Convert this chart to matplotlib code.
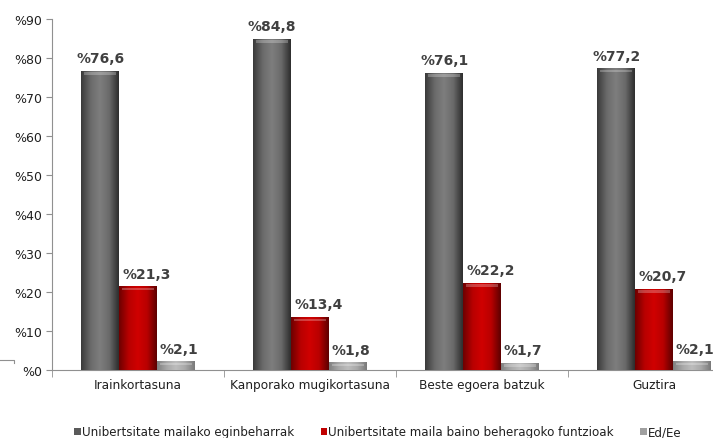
import numpy as np
import matplotlib
matplotlib.use('Agg')
from matplotlib import pyplot as plt
from matplotlib.colors import LinearSegmentedColormap
from matplotlib.lines import Line2D

categories = ['Irainkortasuna', 'Kanporako mugikortasuna', 'Beste egoera batzuk', 'Guztira']
series_names = ['Unibertsitate mailako eginbeharrak',
                'Unibertsitate maila baino beheragoko funtzioak',
                'Ed/Ee']
unib = [76.6, 84.8, 76.1, 77.2]
behera = [21.3, 13.4, 22.2, 20.7]
eded = [2.1, 1.8, 1.7, 2.1]
yticks = [0, 10, 20, 30, 40, 50, 60, 70, 80, 90]

plt.rcParams['font.family'] = ['DejaVu Sans']
fig = plt.figure(figsize=(7.13, 4.39), dpi=100)
ax = fig.add_axes([52/713, 68/439, 688/713, 351/439])

# gradient stops per series, dark edge -> light middle -> dark edge
shades = [
    ['#3a3a3a', '#6a6a6a', '#7e7e7e', '#6a6a6a', '#2e2e2e'],
    ['#6e0000', '#b80000', '#d00000', '#b80000', '#5e0000'],
    ['#808080', '#a8a8a8', '#bdbdbd', '#a8a8a8', '#7a7a7a'],
]
legend_cols = ['#5a5a5a', '#c00000', '#a0a0a0']
label_shift = [0.0, 0.05, 0.02]

x = np.arange(len(categories))
w = 0.22
data = [unib, behera, eded]
grad = np.linspace(0, 1, 64).reshape(1, -1)
for i, vals in enumerate(data):
    bars = ax.bar(x + (i - 1) * w, vals, w, color=legend_cols[i],
                  label=series_names[i], zorder=2, linewidth=0)
    cmap = LinearSegmentedColormap.from_list('s%d' % i, shades[i])
    for b, v in zip(bars, vals):
        x0, x1 = b.get_x(), b.get_x() + b.get_width()
        ax.imshow(grad, cmap=cmap, aspect='auto', extent=[x0, x1, 0, v],
                  zorder=3, interpolation='bicubic')
        ax.fill_between([x0 + w*0.08, x1 - w*0.08], v - 0.9, v - 0.2,
                        color='white', alpha=0.25, zorder=4, linewidth=0)
        ax.text(b.get_x() + b.get_width()/2 + label_shift[i], v + 1.6,
                '%' + ('%.1f' % v).replace('.', ','),
                ha='center', va='bottom', fontsize=10, fontweight='bold',
                color='#404040', zorder=5)

ax.set_xlim(-0.5, len(categories) - 0.5)
ax.set_ylim(0, 90)
ax.set_yticks(yticks)
ax.set_yticklabels(['%' + str(t) for t in yticks], fontsize=9, color='#202020')
ax.set_xticks(x)
ax.set_xticklabels(categories, fontsize=8.7, color='#202020')
ax.set_xticks(np.arange(-0.5, len(categories), 1), minor=True)
ax.tick_params(axis='x', which='major', length=0, pad=6)
ax.tick_params(axis='x', which='minor', length=5, color='#909090')
ax.tick_params(axis='y', length=4, color='#909090', pad=3)
for s in ['top', 'right']:
    ax.spines[s].set_visible(False)
for s in ['left', 'bottom']:
    ax.spines[s].set_color('#909090')

# small stray frame corner at left edge of the original
fig.add_artist(Line2D([0, 14/713, 14/713], [1 - 361/439, 1 - 361/439, 1 - 364/439],
                      color='#909090', lw=0.8))

handles, labels = ax.get_legend_handles_labels()
fig.legend(handles, labels, loc='center', bbox_to_anchor=(378/713, 1 - 433/439),
           ncol=3, frameon=False, fontsize=8.6, handlelength=0.55, handleheight=0.55,
           handletextpad=0.1, columnspacing=2.2, labelcolor='#202020')

fig.savefig('out.png', dpi=100)
